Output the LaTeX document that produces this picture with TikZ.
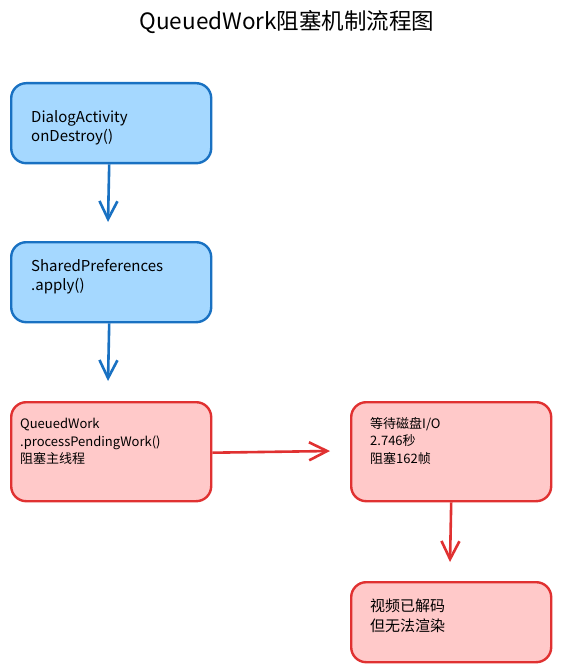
\documentclass[tikz,border=0pt]{standalone}
\usepackage{fontspec}
\setmainfont{Noto Sans CJK SC}
\usetikzlibrary{arrows.meta}
\definecolor{bluefill}{HTML}{A5D8FF}
\definecolor{bluedraw}{HTML}{1971C2}
\definecolor{redfill}{HTML}{FFC9C9}
\definecolor{reddraw}{HTML}{E03131}
\begin{document}
\begin{tikzpicture}[x=1pt,y=-1pt,
  bluebox/.style={draw=bluedraw,fill=bluefill,line width=2.4pt,rounded corners=15pt,minimum width=200pt,anchor=north west,inner sep=0pt},
  redbox/.style={draw=reddraw,fill=redfill,line width=2.4pt,rounded corners=15pt,minimum width=200pt,anchor=north west,inner sep=0pt},
  txt/.style={anchor=north west,align=left,inner sep=0pt,font=\fontsize{15}{19.5}\selectfont},
  stxt/.style={anchor=north west,align=left,inner sep=0pt,font=\fontsize{13}{17.5}\selectfont},
  bluearrow/.style={draw=bluedraw,line width=2.6pt,-{Straight Barb[length=18pt,width=18pt,line width=2.6pt]}},
  redarrow/.style={draw=reddraw,line width=2.6pt,-{Straight Barb[length=18pt,width=18pt,line width=2.6pt]}}
]
\useasboundingbox (0,0) rectangle (560,671);
\node[font=\fontsize{22.5}{26}\selectfont] (title) at (287,22) {QueuedWork阻塞机制流程图};

\node[bluebox,minimum height=80pt] (b1) at (10,82) {};
\node[txt] (t1) at (31,110) {DialogActivity\\onDestroy()};

\node[bluebox,minimum height=80pt] (b2) at (10,241) {};
\node[txt] (t2) at (31,259) {SharedPreferences\\.apply()};

\node[redbox,minimum height=99pt] (b3) at (10,401) {};
\node[stxt] (t3) at (20,418) {QueuedWork\\.processPendingWork()\\阻塞主线程};

\node[redbox,minimum height=99pt] (b4) at (350,401) {};
\node[stxt] (t4) at (370,417) {等待磁盘I/O\\2.746秒\\阻塞162帧};

\node[redbox,minimum height=80pt] (b5) at (350,581) {};
\node[txt] (t5) at (370,599) {视频已解码\\但无法渲染};

\coordinate (a1e) at (108,222);
\coordinate (a2e) at (108,381);
\coordinate (a3e) at (330,451);
\coordinate (a4e) at (450,562);
\draw[bluearrow] (b1.south) ++(-2,0) -- (a1e);
\draw[bluearrow] (b2.south) ++(-2,0) -- (a2e);
\draw[redarrow] (b3.east) ++(0,1) -- (a3e);
\draw[redarrow] (b4.south) -- (a4e);
\end{tikzpicture}
\end{document}
